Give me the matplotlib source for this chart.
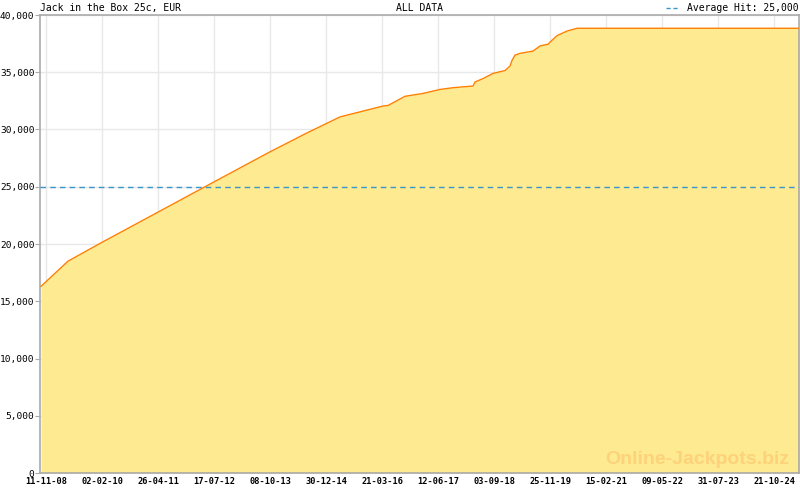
import numpy as np
import matplotlib
matplotlib.use("Agg")
import matplotlib.pyplot as plt
import matplotlib.dates as mdates
from matplotlib.ticker import FuncFormatter, MultipleLocator

# jackpot level (date, EUR)
DATES = ["2008-10-02", "2009-05-06", "2010-01-17", "2012-05-06", "2013-10-08",
         "2014-07-31", "2015-04-21", "2016-03-30", "2016-05-09", "2016-09-22",
         "2017-02-13", "2017-06-29", "2017-10-11", "2018-03-20", "2018-04-05",
         "2018-06-08", "2018-08-27", "2018-12-01", "2019-01-10", "2019-01-26",
         "2019-02-19", "2019-03-31", "2019-07-13", "2019-09-07", "2019-11-10",
         "2019-12-12", "2020-01-21", "2020-04-10", "2020-06-29", "2025-05-09"]
VALUES = [16300, 18500, 20050, 25000, 28050,
          29700, 31100, 32050, 32100, 32900,
          33150, 33500, 33650, 33800, 34150,
          34450, 34900, 35150, 35550, 36050,
          36500, 36650, 36850, 37300, 37450,
          37800, 38200, 38600, 38840, 38840]
AVG_HIT = 25000
TITLE = "Jack in the Box 25c, EUR"
SUBTITLE = "ALL DATA"

FILL, LINE, AVG_C = "#feea90", "#ff8000", "#3a96c8"
MONO = "DejaVu Sans Mono"

x = mdates.date2num(np.array(DATES, dtype="datetime64[D]"))
y = np.array(VALUES)

fig = plt.figure(figsize=(8, 4.9), dpi=100)
ax = fig.add_axes([40 / 800, 17 / 490, 759 / 800, 458 / 490])

x0 = mdates.date2num(np.datetime64("2008-09-24"))
x1 = mdates.date2num(np.datetime64("2025-05-09"))
ax.set_xlim(x0, x1)
ax.set_ylim(0, 40000)

ax.fill_between(x, y, 0, color=FILL, lw=0, zorder=2)
ax.plot(x, y, color=LINE, lw=1.0, zorder=3)
ax.axhline(AVG_HIT, color=AVG_C, lw=1, ls=(0, (4, 3)), zorder=4)

# x ticks evenly spaced from 11-11-08 to 21-10-24, seven minor steps each
start = mdates.date2num(np.datetime64("2008-11-11")) + 0.4
step = (mdates.date2num(np.datetime64("2024-10-21")) + 0.4 - start) / 13
ax.set_xticks([start + step * k for k in range(14)])
minor = [start + step / 7 * k for k in range(-1, 96)]
ax.set_xticks([m for m in minor if x0 <= m <= x1], minor=True)
ax.xaxis.set_major_formatter(mdates.DateFormatter("%d-%m-%y"))
ax.yaxis.set_major_locator(MultipleLocator(5000))
ax.yaxis.set_major_formatter(FuncFormatter(lambda v, p: f"{int(v):,}"))

ax.tick_params(axis="x", which="major", direction="in", length=6, color="#aaaaaa",
               labelsize=6.2, pad=3)
ax.tick_params(axis="x", which="minor", direction="in", length=3, color="#aaaaaa")
ax.tick_params(axis="y", direction="out", length=3.5, color="#aaaaaa", labelsize=6.8, pad=0.5)
for lab in ax.get_xticklabels():
    lab.set_family(MONO)
    lab.set_fontweight("bold")
for lab in ax.get_yticklabels():
    lab.set_family(MONO)

ax.grid(True, color="#e8e8e8", lw=1, zorder=1)
ax.set_axisbelow(True)
for s in ax.spines.values():
    s.set_color("#aaaaaa")
    s.set_linewidth(1.2)

fig.text(40 / 800, 1 - 8 / 490, TITLE, ha="left", va="center", fontsize=7, family=MONO)
fig.text(420 / 800, 1 - 8 / 490, SUBTITLE, ha="center", va="center", fontsize=7, family=MONO)
fig.text(799 / 800, 1 - 8 / 490, f"Average Hit: {AVG_HIT:,}", ha="right", va="center",
         fontsize=7, family=MONO)
fig.lines.append(plt.Line2D([666 / 800, 680 / 800], [1 - 8 / 490, 1 - 8 / 490],
                            transform=fig.transFigure, color=AVG_C, lw=1, ls=(0, (3, 2))))

ax.text(0.987, 0.012, "Online-Jackpots.biz", transform=ax.transAxes, ha="right",
        va="bottom", fontsize=14, fontweight="bold", family="Liberation Sans",
        color="#fdd27a", zorder=5)

fig.savefig("out.png", dpi=100, facecolor="white")
